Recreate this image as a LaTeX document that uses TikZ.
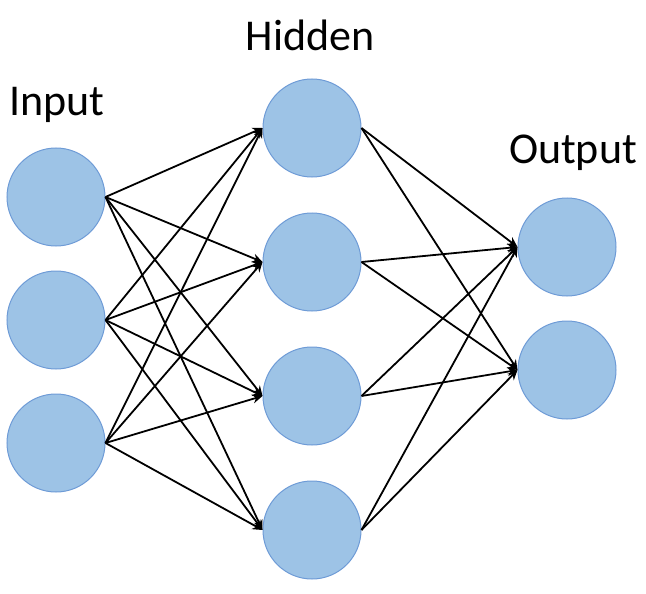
\documentclass[tikz,border=0pt]{standalone}
\usepackage{fontspec}
\setmainfont{Carlito}
\usetikzlibrary{arrows.meta}
\definecolor{nodefill}{HTML}{9DC3E6}
\definecolor{nodeedge}{HTML}{6E9BD6}
\begin{document}
\begin{tikzpicture}[x=1pt,y=-1pt,
  neuron/.style={circle,draw=nodeedge,fill=nodefill,line width=1pt,minimum size=98pt,inner sep=0pt},
  conn/.style={draw=black,line width=1.8pt,-{Stealth[length=10pt,width=9pt]}},
  lbl/.style={font=\fontsize{44}{48}\selectfont,anchor=base,inner sep=0pt}]
\useasboundingbox (0,0) rectangle (646,594);
\node[neuron] (i1) at (56,197) {};
\node[neuron] (i2) at (56,320) {};
\node[neuron] (i3) at (56,443) {};
\node[neuron] (h1) at (312,128) {};
\node[neuron] (h2) at (312,262) {};
\node[neuron] (h3) at (312,396) {};
\node[neuron] (h4) at (312,530) {};
\node[neuron] (o1) at (567,247) {};
\node[neuron] (o2) at (567,370) {};
\node[lbl] (tin) at (57,116) {Input};
\node[lbl] (thid) at (310,51) {Hidden};
\node[lbl] (tout) at (573,164) {Output};
\foreach \i in {i1,i2,i3}{\foreach \h in {h1,h2,h3,h4}{\draw[conn] (\i.east) -- (\h.west);}}
\foreach \h in {h1,h2,h3,h4}{\foreach \o in {o1,o2}{\draw[conn] (\h.east) -- (\o.west);}}
\end{tikzpicture}
\end{document}
